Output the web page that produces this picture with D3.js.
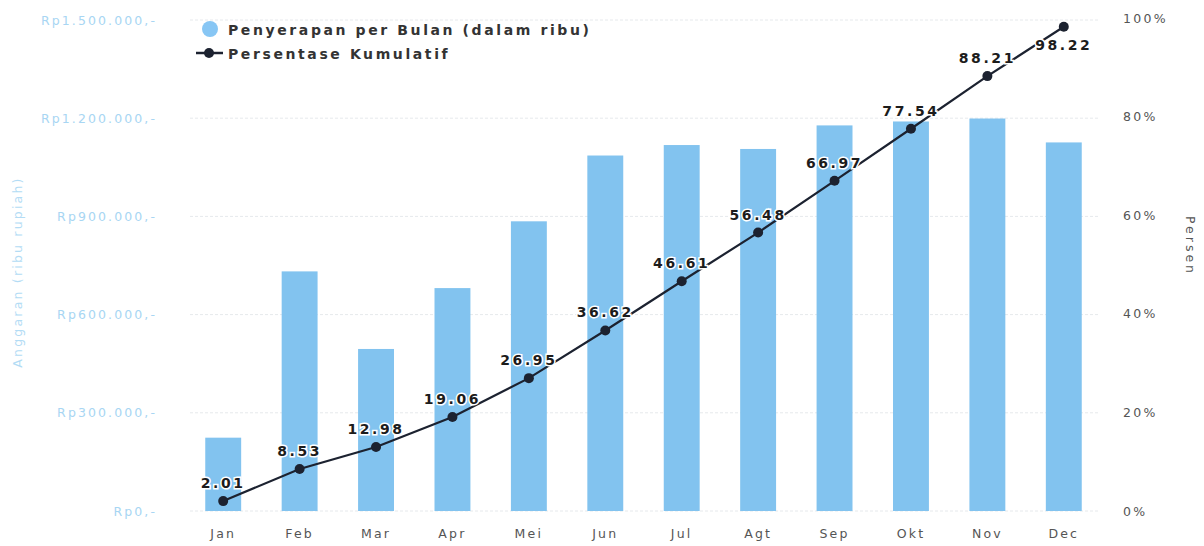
<!DOCTYPE html>
<html>
<head>
<meta charset="utf-8">
<script src="https://cdn.jsdelivr.net/npm/d3@7"></script>
<style>
  body { margin: 0; background: #fff; }
  text { font-family: "DejaVu Sans", sans-serif; }
</style>
</head>
<body>
<script>
// Data
var months = ["Jan", "Feb", "Mar", "Apr", "Mei", "Jun", "Jul", "Agt", "Sep", "Okt", "Nov", "Dec"];
var absorption = [224000, 732000, 495000, 681000, 885000, 1086000, 1118000, 1106000, 1178000, 1190000, 1199000, 1126000];
var cumulative = [2.01, 8.53, 12.98, 19.06, 26.95, 36.62, 46.61, 56.48, 66.97, 77.54, 88.21, 98.22];
var leftTicks = [0, 300000, 600000, 900000, 1200000, 1500000];
var rightTicks = [0, 20, 40, 60, 80, 100];

var width = 1204, height = 546;
var margin = { top: 18, right: 102, bottom: 35, left: 185 };

var svg = d3.select("body").append("svg")
    .attr("width", width)
    .attr("height", height);

var plotW = width - margin.left - margin.right;
var plotBottom = 511;

var xScale = d3.scaleBand().domain(months).range([margin.left, margin.left + plotW]).paddingInner(0.53).paddingOuter(0.265);
var yLeft = d3.scaleLinear().domain([0, 1500000]).range([plotBottom, 20]);
var yRight = d3.scaleLinear().domain([0, 100]).range([plotBottom, 18]);

function rupiah(v) {
    return "Rp" + d3.format(",")(v).replace(/,/g, ".") + ",-";
}

// Gridlines
svg.append("g").selectAll("line")
    .data(leftTicks)
    .enter().append("line")
    .attr("x1", 190).attr("x2", 1100)
    .attr("y1", function (d) { return yLeft(d); })
    .attr("y2", function (d) { return yLeft(d); })
    .style("stroke", "#e6e9ec")
    .style("stroke-width", 1)
    .style("stroke-dasharray", "3,2");

// Left axis
var leftAxis = svg.append("g")
    .attr("transform", "translate(157,0)")
    .call(d3.axisLeft(yLeft).tickValues(leftTicks).tickFormat(rupiah).tickSize(0));
leftAxis.select(".domain").remove();
leftAxis.selectAll("text")
    .attr("x", 0)
    .style("font-size", "12.5px")
    .style("letter-spacing", "2.1px")
    .style("fill", "#a8d6f3");

// Right axis
var rightAxis = svg.append("g")
    .attr("transform", "translate(1123,0)")
    .call(d3.axisRight(yRight).tickValues(rightTicks).tickFormat(function (d) { return d + "%"; }).tickSize(0));
rightAxis.select(".domain").remove();
rightAxis.selectAll("text")
    .attr("x", 0)
    .style("font-size", "12.5px")
    .style("letter-spacing", "2.3px")
    .style("fill", "#555");

// Axis titles
svg.append("text")
    .attr("transform", "translate(22,272) rotate(-90)")
    .attr("text-anchor", "middle")
    .style("font-size", "12.5px")
    .style("letter-spacing", "2.2px")
    .style("fill", "#b3dcf5")
    .text("Anggaran (ribu rupiah)");

svg.append("text")
    .attr("transform", "translate(1186,246) rotate(90)")
    .attr("text-anchor", "middle")
    .style("font-size", "12.5px")
    .style("letter-spacing", "3px")
    .style("fill", "#555")
    .text("Persen");

// Bars
svg.append("g").selectAll("rect")
    .data(absorption)
    .enter().append("rect")
    .attr("x", function (d, i) { return xScale(months[i]); })
    .attr("y", function (d) { return yLeft(d); })
    .attr("width", xScale.bandwidth())
    .attr("height", function (d) { return plotBottom - yLeft(d); })
    .style("fill", "#82c3ef");

// X axis labels
var xAxis = svg.append("g")
    .attr("transform", "translate(0," + plotBottom + ")")
    .call(d3.axisBottom(xScale).tickSize(0));
xAxis.select(".domain").remove();
xAxis.selectAll("text")
    .attr("dy", "1.9em")
    .style("font-size", "12.5px")
    .style("letter-spacing", "2.2px")
    .style("fill", "#555");

// Cumulative line
var cx = function (d, i) { return xScale(months[i]) + xScale.bandwidth() / 2; };
var line = d3.line()
    .x(function (d, i) { return cx(d, i); })
    .y(function (d) { return yRight(d); });

svg.append("path")
    .datum(cumulative)
    .attr("d", line)
    .style("fill", "none")
    .style("stroke", "#1c2230")
    .style("stroke-width", 2.2);

svg.append("g").selectAll("circle")
    .data(cumulative)
    .enter().append("circle")
    .attr("cx", cx)
    .attr("cy", function (d) { return yRight(d); })
    .attr("r", 5)
    .style("fill", "#1c2230");

// Point labels
svg.append("g").selectAll("text")
    .data(cumulative)
    .enter().append("text")
    .attr("x", cx)
    .attr("y", function (d, i) { return i === cumulative.length - 1 ? yRight(d) + 23 : yRight(d) - 13; })
    .attr("text-anchor", "middle")
    .style("font-size", "14px")
    .style("font-weight", "bold")
    .style("letter-spacing", "2.6px")
    .style("fill", "#1c1c1c")
    .style("stroke", "#fff")
    .style("stroke-width", 3)
    .style("paint-order", "stroke")
    .text(function (d) { return d3.format(".2f")(d); });

// Legend
var legend = svg.append("g");
legend.append("circle")
    .attr("cx", 210).attr("cy", 29).attr("r", 8)
    .style("fill", "#87c6f4");
legend.append("text")
    .attr("x", 228).attr("y", 35)
    .style("font-size", "14px")
    .style("font-weight", "bold")
    .style("letter-spacing", "2.6px")
    .style("fill", "#333")
    .text("Penyerapan per Bulan (dalam ribu)");
legend.append("line")
    .attr("x1", 196).attr("x2", 223).attr("y1", 53).attr("y2", 53)
    .style("stroke", "#1c2230").style("stroke-width", 2.5);
legend.append("circle")
    .attr("cx", 209).attr("cy", 53).attr("r", 5)
    .style("fill", "#1c2230");
legend.append("text")
    .attr("x", 228).attr("y", 59)
    .style("font-size", "14px")
    .style("font-weight", "bold")
    .style("letter-spacing", "2.6px")
    .style("fill", "#333")
    .text("Persentase Kumulatif");
</script>
</body>
</html>
